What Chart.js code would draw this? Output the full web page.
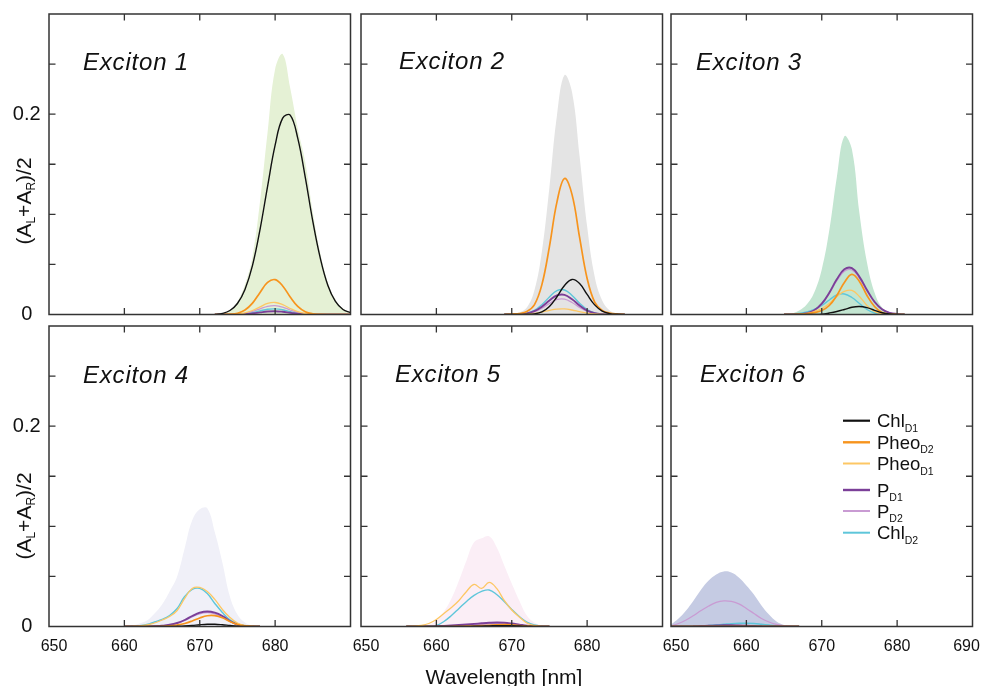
<!DOCTYPE html>
<html><head><meta charset="utf-8">
<script src="https://cdn.jsdelivr.net/npm/chart.js@4.4.0/dist/chart.umd.min.js"></script>
<style>
html,body{margin:0;padding:0;background:#fff;}
#wrap{position:relative;width:981px;height:686px;overflow:hidden;background:#fff;}
#wrap canvas{position:absolute;left:0;top:0;}
</style>
</head><body><div id="wrap"></div>
<script>
// ---------- DATA ----------
const xTickValues = [650, 660, 670, 680, 690];
const xTickLabels = ['650', '660', '670', '680', '690'];
const yTickValues = [0, 0.05, 0.1, 0.15, 0.2, 0.25, 0.3];
const yTickLabels = ['0', '', '', '', '0.2', '', ''];

const seriesNames = ['ChlD1', 'PheoD2', 'PheoD1', 'PD1', 'PD2', 'ChlD2'];
const legendMain = ['Chl', 'Pheo', 'Pheo', 'P', 'P', 'Chl'];
const legendSub = ['D1', 'D2', 'D1', 'D1', 'D2', 'D2'];
const panelTitles = ['Exciton 1', 'Exciton 2', 'Exciton 3', 'Exciton 4', 'Exciton 5', 'Exciton 6'];

// Exciton 1
const wl1 = [672,673,674,675,676,677,678,679,680,681,682,683,684,685,686,687,688,689,690];
const fill1 = [0,0.001,0.004,0.013,0.03,0.058,0.113,0.182,0.245,0.26,0.226,0.186,0.152,0.102,0.061,0.032,0.015,0.006,0.002];
const chlD1_1 = [0,0.001,0.004,0.011,0.025,0.049,0.085,0.128,0.169,0.196,0.199,0.176,0.137,0.093,0.056,0.029,0.013,0.005,0.002];
const pheoD2_1 = [0,0,0.0003,0.0013,0.0045,0.0114,0.022,0.032,0.0348,0.0285,0.0175,0.0081,0.0028,0.0007,0.0002,0,0,0,0];
const pheoD1_1 = [0,0,0.0001,0.0004,0.0016,0.004,0.0076,0.011,0.012,0.0098,0.006,0.0028,0.001,0.0002,0,0,0,0,0];
const pD1_1 = [0,0,0,0.0001,0.0004,0.0011,0.0021,0.003,0.0033,0.0027,0.0017,0.0008,0.0003,0,0,0,0,0,0];
const pD2_1 = [0,0,0,0.0003,0.0012,0.003,0.0057,0.0082,0.0089,0.0074,0.0045,0.0021,0.0007,0.0002,0,0,0,0,0];
const chlD2_1 = [0,0,0,0.0002,0.0007,0.0019,0.0036,0.0052,0.0056,0.0047,0.0029,0.0013,0.0005,0.0001,0,0,0,0,0];

// Exciton 2
const wl2 = [669,670,671,672,673,674,675,676,677,678,679,680,681,682,683,684,685];
const fill2 = [0,0.0005,0.002,0.007,0.024,0.063,0.127,0.199,0.239,0.222,0.158,0.088,0.038,0.014,0.004,0.001,0];
const chlD1_2 = [0,0,0,0.0002,0.0006,0.0026,0.008,0.0177,0.029,0.035,0.031,0.02,0.0096,0.0034,0.0009,0.0002,0];
const pheoD2_2 = [0,0.0005,0.001,0.003,0.0096,0.0298,0.0678,0.1124,0.1358,0.1197,0.077,0.036,0.0123,0.004,0.0015,0.0005,0];
const pheoD1_2 = [0,0,0.0001,0.0004,0.0011,0.0025,0.0042,0.0054,0.0056,0.0045,0.0028,0.0013,0.0005,0.0001,0,0,0];
const pD1_2 = [0,0,0.0002,0.001,0.0033,0.0078,0.014,0.019,0.0196,0.0152,0.009,0.004,0.0014,0.0003,0,0,0];
const pD2_2 = [0,0,0.0002,0.0008,0.0026,0.0062,0.011,0.015,0.0154,0.012,0.007,0.0032,0.0011,0.0003,0,0,0];
const chlD2_2 = [0,0,0.0003,0.0013,0.0041,0.0098,0.0175,0.0238,0.0245,0.019,0.0112,0.005,0.0017,0.0004,0,0,0];

// Exciton 3
const wl3 = [665,666,667,668,669,670,671,672,673,674,675,676,677,678,679,680,681];
const fill3 = [0,0.001,0.004,0.01,0.022,0.045,0.084,0.137,0.178,0.165,0.101,0.052,0.022,0.007,0.002,0.0005,0];
const chlD1_3 = [0,0,0,0,0,0.0003,0.0015,0.003,0.005,0.0072,0.008,0.0068,0.0042,0.0018,0.0005,0,0];
const pheoD2_3 = [0,0,0.0002,0.0007,0.0018,0.004,0.009,0.019,0.032,0.04,0.033,0.019,0.008,0.002,0.0004,0,0];
const pheoD1_3 = [0,0.0001,0.0003,0.001,0.003,0.006,0.011,0.018,0.023,0.024,0.018,0.009,0.003,0.0008,0.0002,0,0];
const pD1_3 = [0,0.0001,0.0003,0.0013,0.0042,0.0108,0.0218,0.0351,0.0451,0.0462,0.0376,0.0245,0.0127,0.0052,0.0017,0.0005,0];
const pD2_3 = [0,0.0001,0.0003,0.0012,0.004,0.0104,0.021,0.0337,0.0433,0.0444,0.036,0.0235,0.0122,0.005,0.0016,0.0005,0];
const chlD2_3 = [0,0.0003,0.001,0.0025,0.0052,0.009,0.0145,0.0195,0.0205,0.017,0.011,0.005,0.0015,0.0003,0,0,0];

// Exciton 4
const wl4 = [660,661,662,663,664,665,666,667,668,669,670,671,672,673,674,675,676,677,678];
const fill4 = [0,0.001,0.003,0.006,0.013,0.022,0.035,0.05,0.078,0.106,0.117,0.118,0.094,0.064,0.03,0.012,0.004,0.001,0];
const chlD1_4 = [0,0,0,0,0,0,0,0.0002,0.0005,0.001,0.0017,0.0022,0.0022,0.0017,0.001,0.0004,0.0001,0,0];
const pheoD2_4 = [0,0,0,0,0,0.0002,0.0006,0.0015,0.003,0.0055,0.0085,0.0107,0.0108,0.0088,0.005,0.002,0.0006,0.0001,0];
const pheoD1_4 = [0,0.0002,0.0005,0.0015,0.0035,0.0065,0.01,0.016,0.028,0.038,0.039,0.035,0.027,0.017,0.009,0.0034,0.001,0.0002,0];
const pD1_4 = [0,0,0,0,0.0003,0.0008,0.0017,0.0035,0.0065,0.0105,0.0138,0.015,0.0138,0.0105,0.0055,0.002,0.0005,0,0];
const pD2_4 = [0,0,0,0,0.0003,0.0007,0.0016,0.0032,0.006,0.0097,0.0127,0.0138,0.0127,0.0097,0.005,0.0018,0.0005,0,0];
const chlD2_4 = [0,0.0003,0.0007,0.002,0.0045,0.007,0.011,0.018,0.03,0.037,0.038,0.033,0.023,0.014,0.0067,0.0027,0.0008,0.0002,0];

// Exciton 5
const wl5 = [656,657,658,659,660,661,662,663,664,665,666,667,668,669,670,671,672,673,674,675];
const fill5 = [0,0.0002,0.0008,0.002,0.006,0.015,0.028,0.046,0.066,0.084,0.088,0.09,0.079,0.061,0.043,0.026,0.011,0.004,0.001,0];
const chlD1_5 = [0,0,0,0,0,0,0,0,0.0001,0.0002,0.0004,0.0006,0.0008,0.0009,0.0008,0.0005,0.0002,0,0,0];
const pheoD2_5 = [0,0,0,0,0,0,0,0.0001,0.0003,0.0005,0.0008,0.0012,0.0016,0.0018,0.0016,0.001,0.0004,0.0001,0,0];
const pheoD1_5 = [0,0.0003,0.001,0.003,0.007,0.013,0.019,0.026,0.035,0.042,0.038,0.044,0.038,0.026,0.0165,0.0095,0.0035,0.001,0.0002,0];
const pD1_5 = [0,0,0,0,0.0003,0.0006,0.001,0.0015,0.002,0.0026,0.0032,0.0037,0.004,0.0038,0.003,0.0019,0.0008,0.0002,0,0];
const pD2_5 = [0,0,0,0,0.0002,0.0004,0.0007,0.001,0.0014,0.0018,0.0022,0.0026,0.0028,0.0027,0.0021,0.0013,0.0006,0.0001,0,0];
const chlD2_5 = [0,0,0,0.0003,0.001,0.005,0.011,0.018,0.025,0.031,0.035,0.0365,0.032,0.025,0.017,0.01,0.0045,0.0015,0.0003,0];

// Exciton 6
const wl6 = [650,651,652,653,654,655,656,657,658,659,660,661,662,663,664,665,666,667];
const fill6 = [0.002,0.008,0.016,0.026,0.037,0.046,0.052,0.055,0.054,0.049,0.041,0.032,0.021,0.012,0.005,0.0015,0.0003,0];
const chlD1_6 = [0,0,0,0,0,0,0,0,0,0,0,0,0,0,0,0,0,0];
const pheoD2_6 = [0,0,0,0,0,0,0,0,0,0,0,0,0,0,0,0,0,0];
const pheoD1_6 = [0,0,0,0,0,0,0,0,0,0,0,0,0,0,0,0,0,0];
const pD1_6 = [0,0,0,0.0002,0.0005,0.0008,0.001,0.0012,0.0012,0.001,0.0008,0.0005,0.0002,0,0,0,0,0];
const pD2_6 = [0.0007,0.003,0.0065,0.011,0.016,0.0205,0.024,0.0255,0.025,0.0225,0.018,0.013,0.008,0.0045,0.002,0.0007,0.0002,0];
const chlD2_6 = [0,0,0,0.0002,0.0005,0.001,0.0016,0.0022,0.0028,0.0032,0.0033,0.003,0.0023,0.0015,0.0008,0.0003,0.0001,0];

// ---------- STYLE / LAYOUT ----------
const seriesColors = ['#111111', '#f7941d', '#fdc764', '#7b3f98', '#c99bd3', '#5ec6da'];
const seriesWidths = [1.4, 1.7, 1.3, 1.9, 1.3, 1.4];
const legendWidths = [2.2, 2.4, 2.0, 2.4, 2.0, 2.0];
const fillColors = ['#e5f1d5', '#e4e4e4', '#c3e5d1', '#f0f0f8', '#fbeef6', '#c5cbe3'];
const colLeft = [49, 361, 671], colW = 301.5;
const rowTop = [14, 326], rowH = 300.5;
const titlePos = [[83, 70], [399, 69], [696, 70], [83, 382.5], [395, 382], [700, 382]];
const yTitleCenter = [201, 516];
const legendRowsY = [420.7, 442.3, 463.5, 490, 511, 532.7];
const FONT = '"Liberation Sans", Arial, Helvetica, sans-serif';
const INK = '#111';

const panelData = [
  { wl: wl1, fill: fill1, lines: [chlD1_1, pheoD2_1, pheoD1_1, pD1_1, pD2_1, chlD2_1] },
  { wl: wl2, fill: fill2, lines: [chlD1_2, pheoD2_2, pheoD1_2, pD1_2, pD2_2, chlD2_2] },
  { wl: wl3, fill: fill3, lines: [chlD1_3, pheoD2_3, pheoD1_3, pD1_3, pD2_3, chlD2_3] },
  { wl: wl4, fill: fill4, lines: [chlD1_4, pheoD2_4, pheoD1_4, pD1_4, pD2_4, chlD2_4] },
  { wl: wl5, fill: fill5, lines: [chlD1_5, pheoD2_5, pheoD1_5, pD1_5, pD2_5, chlD2_5] },
  { wl: wl6, fill: fill6, lines: [chlD1_6, pheoD2_6, pheoD1_6, pD1_6, pD2_6, chlD2_6] }
];

function richWidth(ctx, parts, big, small) {
  let w = 0;
  parts.forEach(p => { ctx.font = (p[1] ? small : big); w += ctx.measureText(p[0]).width; });
  return w;
}
function richDraw(ctx, parts, x, y, big, small, dy) {
  let cx = x;
  parts.forEach(p => {
    ctx.font = (p[1] ? small : big);
    ctx.fillText(p[0], cx, p[1] ? y + dy : y);
    cx += ctx.measureText(p[0]).width;
  });
  return cx;
}

const decor = {
  id: 'decor',
  afterDraw(chart, args, o) {
    const { ctx, chartArea: a } = chart;
    const xs = chart.scales.x, ys = chart.scales.y;
    ctx.save();
    // frame
    ctx.strokeStyle = '#333';
    ctx.lineWidth = 1.5;
    ctx.strokeRect(a.left, a.top, a.right - a.left, a.bottom - a.top);
    // inner ticks
    ctx.lineWidth = 1.3;
    ctx.beginPath();
    xTickValues.forEach(v => {
      if (v <= xs.min || v >= xs.max) return;
      const px = xs.getPixelForValue(v);
      ctx.moveTo(px, a.bottom); ctx.lineTo(px, a.bottom - 6.5);
      ctx.moveTo(px, a.top); ctx.lineTo(px, a.top + 6.5);
    });
    yTickValues.forEach(v => {
      if (v <= ys.min || v >= ys.max) return;
      const py = ys.getPixelForValue(v);
      ctx.moveTo(a.left, py); ctx.lineTo(a.left + 6.5, py);
      ctx.moveTo(a.right, py); ctx.lineTo(a.right - 6.5, py);
    });
    ctx.stroke();

    ctx.fillStyle = INK;
    // y tick labels
    if (o.col === 0) {
      ctx.font = '20px ' + FONT;
      ctx.textAlign = 'center';
      ctx.textBaseline = 'middle';
      yTickValues.forEach((v, i) => {
        if (!yTickLabels[i]) return;
        ctx.fillText(yTickLabels[i], 26.7, ys.getPixelForValue(v));
      });
      // y axis title
      ctx.save();
      ctx.textAlign = 'left';
      ctx.textBaseline = 'alphabetic';
      const parts = [['(A', 0], ['L', 1], ['+A', 0], ['R', 1], [')/2', 0]];
      const big = '21px ' + FONT, small = '12px ' + FONT;
      const w = richWidth(ctx, parts, big, small);
      ctx.translate(31, yTitleCenter[o.row]);
      ctx.rotate(-Math.PI / 2);
      richDraw(ctx, parts, -w / 2, 0, big, small, 4);
      ctx.restore();
    }
    // x tick labels
    if (o.row === 1) {
      ctx.font = '16px ' + FONT;
      ctx.textAlign = 'center';
      ctx.textBaseline = 'alphabetic';
      xTickValues.forEach((v, i) => {
        if (v === 690 && o.col !== 2) return;
        let px = xs.getPixelForValue(v);
        if (v === 650) px += 5;
        if (v === 690) px -= 6;
        ctx.fillText(xTickLabels[i], px, 651);
      });
    }
    // x axis title
    if (o.k === 4) {
      ctx.font = '21px ' + FONT;
      ctx.textAlign = 'center';
      ctx.textBaseline = 'alphabetic';
      ctx.fillText('Wavelength [nm]', 504, 683.5);
    }
    // panel title
    ctx.font = 'italic 24px ' + FONT;
    ctx.textAlign = 'left';
    ctx.textBaseline = 'alphabetic';
    try { ctx.letterSpacing = '0.8px'; } catch (e) {}
    ctx.fillText(o.title, o.tp[0], o.tp[1]);
    try { ctx.letterSpacing = '0px'; } catch (e) {}
    // legend
    if (o.k === 5) {
      legendRowsY.forEach((yy, i) => {
        ctx.strokeStyle = seriesColors[i];
        ctx.lineWidth = legendWidths[i];
        ctx.beginPath();
        ctx.moveTo(843, yy); ctx.lineTo(870, yy);
        ctx.stroke();
        ctx.fillStyle = INK;
        richDraw(ctx, [[legendMain[i], 0], [legendSub[i], 1]], 877, yy + 6.7,
          '18.5px ' + FONT, '10.5px ' + FONT, 4.4);
      });
    }
    ctx.restore();
  }
};

const wrap = document.getElementById('wrap');
panelData.forEach((p, k) => {
  const col = k % 3, row = Math.floor(k / 3);
  const left = colLeft[col], top = rowTop[row];
  const cv = document.createElement('canvas');
  cv.width = 981; cv.height = 686;
  wrap.appendChild(cv);
  const datasets = p.lines.map((arr, i) => ({
    label: seriesNames[i],
    data: p.wl.map((x, j) => ({ x: x, y: arr[j] })),
    borderColor: seriesColors[i],
    borderWidth: seriesWidths[i],
    pointRadius: 0,
    fill: false,
    tension: 0.4
  }));
  datasets.push({
    label: 'total',
    data: p.wl.map((x, j) => ({ x: x, y: p.fill[j] })),
    borderWidth: 0,
    borderColor: 'rgba(0,0,0,0)',
    backgroundColor: fillColors[k],
    fill: 'origin',
    pointRadius: 0,
    tension: 0.4
  });
  new Chart(cv, {
    type: 'line',
    data: { datasets: datasets },
    options: {
      responsive: false,
      animation: false,
      devicePixelRatio: 1,
      events: [],
      layout: { padding: { left: left, top: top, right: 981 - left - colW, bottom: 686 - top - rowH } },
      scales: {
        x: { type: 'linear', min: 650, max: 690, display: false },
        y: { type: 'linear', min: 0, max: 0.3, display: false }
      },
      plugins: {
        legend: { display: false },
        tooltip: { enabled: false },
        decor: { k: k, col: col, row: row, title: panelTitles[k], tp: titlePos[k] }
      }
    },
    plugins: [decor]
  });
});
</script>
</body></html>
